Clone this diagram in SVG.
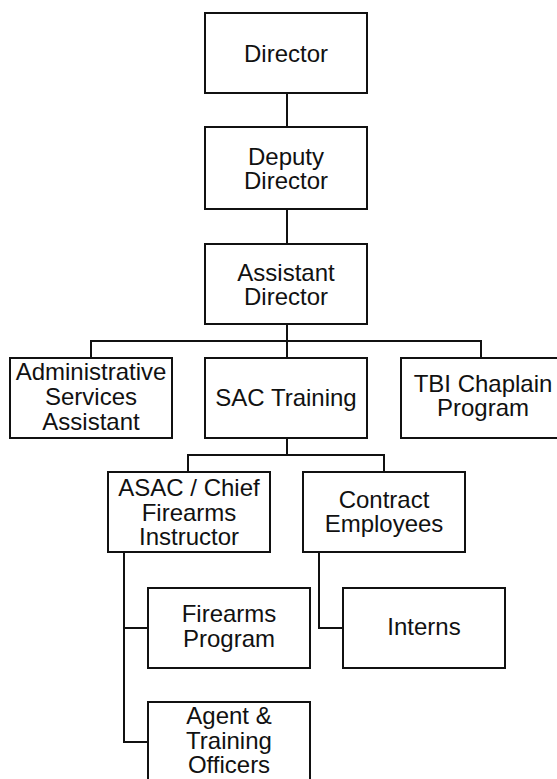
<svg xmlns="http://www.w3.org/2000/svg" width="557" height="779" viewBox="0 0 557 779">
<style>
.box{fill:#fff;stroke:#111;stroke-width:2}
.conn{fill:none;stroke:#111;stroke-width:2}
text{font-family:"Liberation Sans",Arial,sans-serif;font-size:24px;fill:#111;text-anchor:middle}
</style>
<rect width="557" height="779" fill="#fff"/>
<g id="connectors" class="conn">
<path d="M287 93V127"/>
<path d="M287 209V244"/>
<path d="M287 324V358M91 358V341H481V358"/>
<path d="M287 438V455M188 472V455H384V472"/>
<path d="M124 552V742H148M124 628H148"/>
<path d="M319 552V628H343"/>
</g>
<g id="director"><rect class="box" x="205" y="13" width="162" height="80"/><text x="286" y="61.5">Director</text></g>
<g id="deputy-director"><rect class="box" x="205" y="127" width="162" height="82"/><text x="286" y="164.5">Deputy</text><text x="286" y="188.5">Director</text></g>
<g id="assistant-director"><rect class="box" x="205" y="244" width="162" height="80"/><text x="286" y="280.5">Assistant</text><text x="286" y="305">Director</text></g>
<g id="admin-services"><rect class="box" x="10" y="358" width="162" height="80"/><text x="91" y="380">Administrative</text><text x="91" y="405">Services</text><text x="91" y="430">Assistant</text></g>
<g id="sac-training"><rect class="box" x="205" y="358" width="162" height="80"/><text x="286" y="405.5">SAC Training</text></g>
<g id="tbi-chaplain"><rect class="box" x="401" y="358" width="162" height="80"/><text x="483" y="391.5">TBI Chaplain</text><text x="483" y="415.5">Program</text></g>
<g id="asac"><rect class="box" x="108" y="472" width="162" height="80"/><text x="189" y="495.5">ASAC / Chief</text><text x="189" y="520.5">Firearms</text><text x="189" y="545">Instructor</text></g>
<g id="contract-employees"><rect class="box" x="303" y="472" width="162" height="80"/><text x="384" y="508">Contract</text><text x="384" y="532">Employees</text></g>
<g id="firearms-program"><rect class="box" x="148" y="588" width="162" height="80"/><text x="229" y="622">Firearms</text><text x="229" y="647">Program</text></g>
<g id="interns"><rect class="box" x="343" y="588" width="162" height="80"/><text x="424" y="634.5">Interns</text></g>
<g id="agent-training"><rect class="box" x="148" y="702" width="162" height="90"/><text x="229" y="724">Agent &amp;</text><text x="229" y="749">Training</text><text x="229" y="773">Officers</text></g>
</svg>
